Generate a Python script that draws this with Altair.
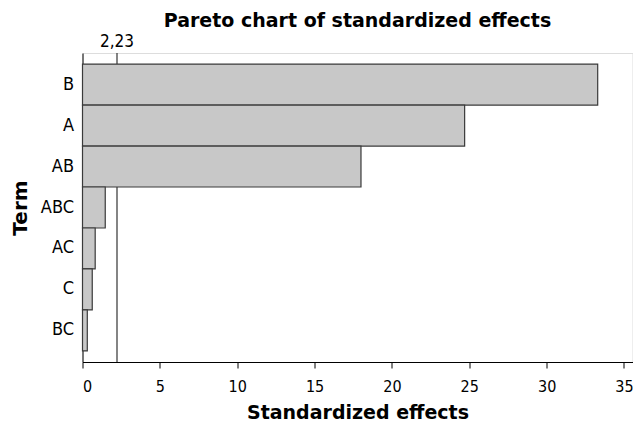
import altair as alt
import pandas as pd

terms = ["B", "A", "AB", "ABC", "AC", "C", "BC"]
effects = [33.3, 24.7, 18.0, 1.47, 0.82, 0.63, 0.31]
ref_value = [2.23]
ref_label = ["2,23"]
x_ticks = [0, 5, 10, 15, 20, 25, 30, 35]

df = pd.DataFrame({"Term": terms, "Effect": effects})
ref = pd.DataFrame({"v": ref_value, "label": ref_label})

FONT = "DejaVu Sans"
FONTC = "DejaVu Sans Condensed"

xscale = alt.Scale(domain=[0, 35.55], nice=False, zero=True)

bars = alt.Chart(df).mark_bar(
    color="#c8c8c8", stroke="#3a3a3a", strokeWidth=1.2
).encode(
    x=alt.X("Effect:Q", scale=xscale,
            axis=alt.Axis(values=x_ticks, title="Standardized effects", grid=False,
                          tickColor="black", domainColor="black", tickSize=6,
                          labelFontSize=16, labelColor="black", labelPadding=10,
                          titleFontSize=19, titleFontWeight="bold", titleColor="black",
                          titlePadding=9, labelFont=FONTC, titleFont=FONT)),
    y=alt.Y("Term:N", sort=terms,
            scale=alt.Scale(paddingInner=0, paddingOuter=0.27),
            axis=alt.Axis(title="Term", ticks=False, domainColor="black",
                          labelFontSize=18, labelColor="black", labelPadding=9,
                          titleFontSize=20, titleFontWeight="bold", titleColor="black",
                          titlePadding=10, labelFont=FONTC, titleFont=FONT)),
)

rule = alt.Chart(ref).mark_rule(color="#333333", strokeWidth=1.2).encode(
    x=alt.X("v:Q", scale=xscale),
    y=alt.value(0),
    y2=alt.value(309),
)

label = alt.Chart(ref).mark_text(
    fontSize=17, font=FONTC, color="black", baseline="bottom", dy=-2
).encode(
    x=alt.X("v:Q", scale=xscale),
    y=alt.value(0),
    text="label:N",
)

chart = alt.layer(rule, bars, label).properties(
    width=550, height=309,
    title=alt.TitleParams("Pareto chart of standardized effects", fontSize=19,
                          fontWeight="bold", font=FONT, color="black",
                          anchor="middle", offset=2),
    autosize=alt.AutoSizeParams(type="none"),
    padding={"left": 74.5, "top": 45, "right": 0.5, "bottom": 61},
).configure_view(stroke="black", strokeWidth=1).configure(background="white")

chart.save("out.html", embed_options={"renderer": "svg", "actions": False})
